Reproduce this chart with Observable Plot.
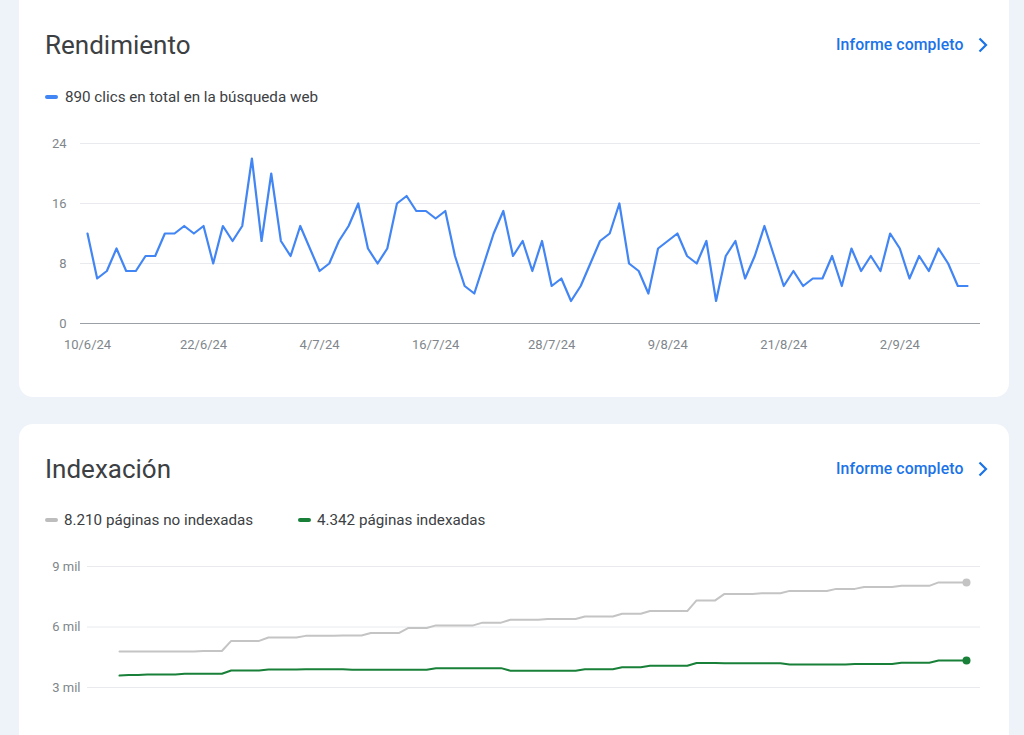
<!DOCTYPE html>
<html>
<head>
<meta charset="utf-8">
<script src="https://cdn.jsdelivr.net/npm/d3@7"></script>
<script src="https://cdn.jsdelivr.net/npm/@observablehq/plot@0.6"></script>
<style>
  html, body { margin: 0; padding: 0; }
  body { width: 1024px; height: 735px; overflow: hidden; background: #eef2f9; position: relative; font-family: Roboto, "Noto Sans", sans-serif; }
  .card { position: absolute; left: 19px; width: 990px; background: #fff; border-radius: 14px; }
  .title { position: absolute; left: 45px; font-size: 26px; color: #3c4043; font-weight: 400; line-height: 1; }
  .link { position: absolute; left: 836px; font-size: 15.8px; color: #1a73e8; font-weight: 500; line-height: 1; letter-spacing: 0.1px; }
  .chev { position: absolute; left: 977px; }
  .leg { position: absolute; font-size: 15.2px; color: #3c4043; line-height: 1; white-space: nowrap; }
  .sw { position: absolute; width: 13px; height: 4px; border-radius: 2px; }
  .chart { position: absolute; left: 0; }
</style>
<script>
// ---- Data ----
const startDate = "2024-06-10"; // first day of both series (daily)

const clicks = [
  12,6,7,10,7,7,9,9,12,12,13,12,13,8,13,11,13,22,11,20,
  11,9,13,10,7,8,11,13,16,10,8,10,16,17,15,15,14,15,9,5,
  4,8,12,15,9,11,7,11,5,6,3,5,8,11,12,16,8,7,4,10,
  11,12,9,8,11,3,9,11,6,9,13,9,5,7,5,6,6,9,5,10,
  7,9,7,12,10,6,9,7,10,8,5,5
];

const clickTicks = [0, 8, 16, 24];
const dateTicks = ["2024-06-10","2024-06-22","2024-07-04","2024-07-16","2024-07-28","2024-08-09","2024-08-21","2024-09-02"];
const dateTickLabels = ["10/6/24","22/6/24","4/7/24","16/7/24","28/7/24","9/8/24","21/8/24","2/9/24"];

const notIndexed = [
  4790,4790,4790,4790,4790,4790,4790,4790,4790,
  4810,4810,4810,
  5310,5310,5310,5310,
  5480,5480,5480,5480,
  5560,5560,5560,5560,
  5580,5580,5580,
  5700,5700,5700,5700,
  5950,5950,5950,
  6080,6080,6080,6080,6080,
  6215,6215,6215,
  6360,6360,6360,6360,
  6400,6400,6400,6400,
  6520,6520,6520,6520,
  6660,6660,6660,
  6790,6790,6790,6790,6790,
  7320,7320,7320,
  7640,7640,7640,7640,
  7670,7670,7670,
  7790,7790,7790,7790,7790,
  7890,7890,7890,
  7980,7980,7980,7980,
  8040,8040,8040,8040,
  8210,8210,8210,8210
];

const indexed = [
  3590,
  3620,3620,
  3650,3650,3650,3650,
  3680,3680,3680,3680,3680,
  3840,3840,3840,3840,
  3890,3890,3890,3890,
  3910,3910,3910,3910,3910,
  3880,3880,3880,3880,3880,3880,3880,3880,3880,
  3960,3960,3960,3960,3960,3960,3960,3960,
  3830,3830,3830,3830,3830,3830,3830,3830,
  3910,3910,3910,3910,
  4000,4000,4000,
  4080,4080,4080,4080,4080,
  4215,4215,4215,
  4200,4200,4200,4200,4200,4200,4200,
  4140,4140,4140,4140,4140,4140,4140,
  4170,4170,4170,4170,4170,
  4230,4230,4230,4230,
  4342,4342,4342,4342
];

const pageTicks = [3000, 6000, 9000];
const pageTickLabels = ["3 mil", "6 mil", "9 mil"];

function draw() {
  const d0 = new Date(startDate);
  const dayOf = i => d3.utcDay.offset(d0, i);
  const clickRows = clicks.map((v, i) => ({date: dayOf(i), value: v}));
  const pageRows = [
    ...notIndexed.map((v, i) => ({date: dayOf(i), value: v, series: "no"})),
    ...indexed.map((v, i) => ({date: dayOf(i), value: v, series: "si"}))
  ];
  const lastNo = pageRows.filter(d => d.series === "no").slice(-1);
  const lastSi = pageRows.filter(d => d.series === "si").slice(-1);
  const tickDates = dateTicks.map(s => new Date(s));
  const fmtTick = d => dateTickLabels[tickDates.findIndex(t => +t === +d)];

  const baseStyle = {fontFamily: "Roboto, sans-serif", fontSize: "13px", color: "#80868b", background: "transparent"};

  const chart1 = Plot.plot({
    width: 1024, height: 250,
    marginTop: 23, marginBottom: 47, marginLeft: 80, marginRight: 44,
    style: baseStyle,
    x: {type: "utc", domain: [clickRows[0].date, clickRows[clickRows.length - 1].date], insetLeft: 7, insetRight: 13},
    y: {domain: [0, 24]},
    marks: [
      Plot.ruleY(clickTicks.slice(1), {stroke: "#e8eaed", strokeWidth: 1}),
      Plot.ruleY([0], {stroke: "#9aa0a6", strokeWidth: 1}),
      Plot.axisY({ticks: clickTicks, tickSize: 0, tickPadding: 14, label: null, fill: "#80868b"}),
      Plot.axisX({ticks: tickDates, tickFormat: fmtTick, tickSize: 0, tickPadding: 16, label: null, fill: "#80868b"}),
      Plot.lineY(clickRows, {x: "date", y: "value", stroke: "#4285f4", strokeWidth: 2.2})
    ]
  });
  document.getElementById("c1").appendChild(chart1);

  const chart2 = Plot.plot({
    width: 1024, height: 175,
    marginTop: 26, marginBottom: 0, marginLeft: 87, marginRight: 44,
    style: baseStyle,
    x: {type: "utc", domain: [pageRows[0].date, dayOf(notIndexed.length - 1)], insetLeft: 32, insetRight: 14},
    y: {domain: [0, 9000], range: [26 + 181.5, 26]},
    color: {domain: ["no", "si"], range: ["#c4c4c4", "#188038"]},
    marks: [
      Plot.ruleY(pageTicks, {stroke: "#e8eaed", strokeWidth: 1}),
      Plot.axisY({ticks: pageTicks, tickFormat: d => pageTickLabels[pageTicks.indexOf(d)], tickSize: 0, tickPadding: 7, label: null, fill: "#80868b"}),
      Plot.lineY(pageRows, {x: "date", y: "value", z: "series", stroke: "series", strokeWidth: 2}),
      Plot.dot(lastNo, {x: "date", y: "value", r: 4, fill: "#c4c4c4"}),
      Plot.dot(lastSi, {x: "date", y: "value", r: 4, fill: "#188038"})
    ]
  });
  document.getElementById("c2").appendChild(chart2);
}
document.addEventListener("DOMContentLoaded", draw);
</script>
</head>
<body>
<div class="card" style="top:-14px;height:411px;"></div>
<div class="card" style="top:424px;height:400px;"></div>

<div class="title" style="top:32px;">Rendimiento</div>
<div class="link" style="top:37px;">Informe completo</div>
<svg class="chev" style="top:37px" width="12" height="16" viewBox="0 0 12 16"><path d="M2.5 1.5 L9 8 L2.5 14.5" fill="none" stroke="#1a73e8" stroke-width="2.2"/></svg>
<div class="sw" style="left:45px;top:95px;background:#4285f4;"></div>
<div class="leg" style="left:65px;top:90px;">890 clics en total en la búsqueda web</div>

<div class="title" style="top:456px;">Indexación</div>
<div class="link" style="top:461px;">Informe completo</div>
<svg class="chev" style="top:461px" width="12" height="16" viewBox="0 0 12 16"><path d="M2.5 1.5 L9 8 L2.5 14.5" fill="none" stroke="#1a73e8" stroke-width="2.2"/></svg>
<div class="sw" style="left:45px;top:518px;background:#bdbdbd;"></div>
<div class="leg" style="left:64px;top:513px;">8.210 páginas no indexadas</div>
<div class="sw" style="left:298px;top:518px;background:#188038;"></div>
<div class="leg" style="left:317px;top:513px;">4.342 páginas indexadas</div>

<div id="c1" class="chart" style="top:120px;"></div>
<div id="c2" class="chart" style="top:540px;"></div>
</body>
</html>
